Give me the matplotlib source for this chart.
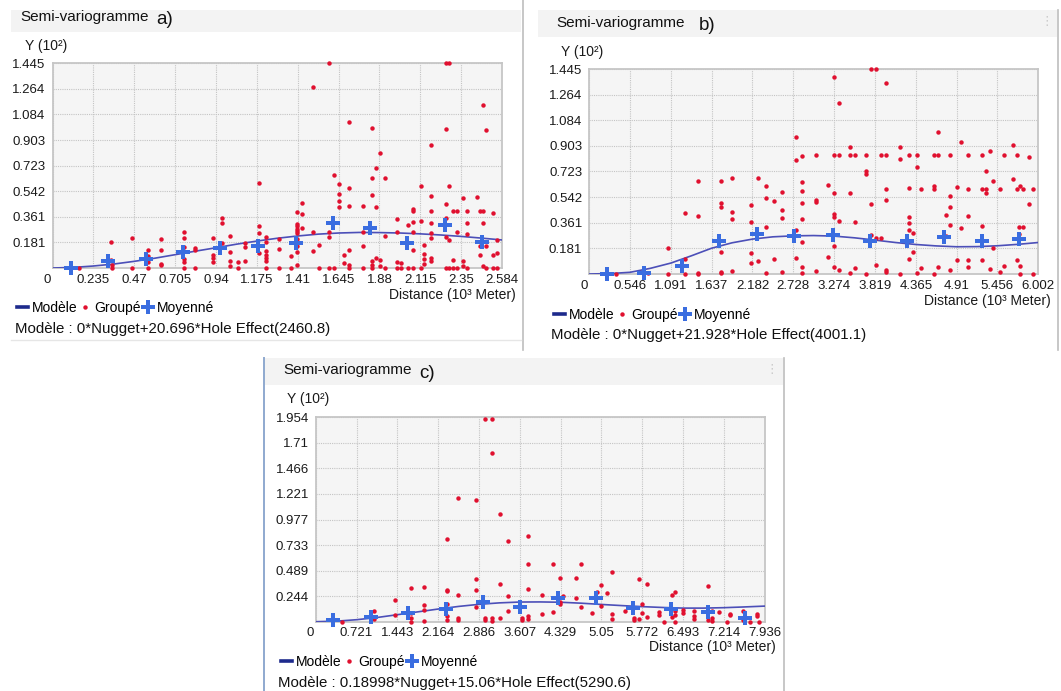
# Semi-variogrammes a), b), c) - hole effect models
import numpy as np
import matplotlib
matplotlib.use("Agg")
import matplotlib.pyplot as plt
from matplotlib.lines import Line2D
from matplotlib.patches import Rectangle
from matplotlib.transforms import ScaledTranslation

plt.rcParams['font.family'] = ['Liberation Sans', 'DejaVu Sans']

# ============================================
# Data (Y in 10^2, distance in 10^3 m)

a_xticks = ['0', '0.235', '0.47', '0.705', '0.94', '1.175', '1.41', '1.645', '1.88', '2.115', '2.35', '2.584']
a_yticks = ['0.181', '0.361', '0.542', '0.723', '0.903', '1.084', '1.264', '1.445']
a_model = "Modèle : 0*Nugget+20.696*Hole Effect(2460.8)"
a_groupe = [
    (0.154, 0.0), (0.336, 0.181), (0.336, 0.056), (0.340, 0.021), (0.340, 0.0),
    (0.455, 0.209), (0.455, 0.0),
    (0.547, 0.127), (0.547, 0.085), (0.547, 0.045), (0.547, 0.0),
    (0.626, 0.202), (0.626, 0.127), (0.626, 0.028), (0.626, 0.019),
    (0.758, 0.254), (0.758, 0.212), (0.758, 0.151), (0.758, 0.064), (0.758, 0.040), (0.758, 0.0),
    (0.819, 0.139), (0.819, 0.127), (0.819, 0.0),
    (0.925, 0.209), (0.925, 0.092), (0.925, 0.068), (0.925, 0.040),
    (0.973, 0.351), (0.973, 0.320), (0.973, 0.179),
    (1.020, 0.228), (1.020, 0.111), (1.020, 0.052), (1.020, 0.016),
    (1.066, 0.040), (1.066, 0.0),
    (1.107, 0.179), (1.107, 0.151), (1.107, 0.049),
    (1.187, 0.602), (1.187, 0.299), (1.187, 0.249), (1.187, 0.104),
    (1.227, 0.221), (1.227, 0.181), (1.227, 0.120), (1.227, 0.092), (1.227, 0.068), (1.227, 0.049), (1.227, 0.0),
    (1.300, 0.202), (1.300, 0.132), (1.300, 0.0),
    (1.369, 0.085), (1.369, 0.0),
    (1.406, 0.392), (1.406, 0.310), (1.406, 0.294), (1.406, 0.277), (1.406, 0.263), (1.406, 0.247),
    (1.406, 0.204), (1.406, 0.157), (1.406, 0.115), (1.406, 0.023),
    (1.435, 0.458), (1.435, 0.381), (1.435, 0.282),
    (1.498, 1.276), (1.498, 0.251), (1.498, 0.122),
    (1.530, 0.164), (1.530, 0.0),
    (1.590, 1.445), (1.590, 0.251), (1.590, 0.218), (1.590, 0.0),
    (1.620, 0.660), (1.620, 0.0),
    (1.645, 0.590), (1.645, 0.519), (1.645, 0.470), (1.645, 0.428),
    (1.674, 0.094), (1.674, 0.035),
    (1.702, 1.031), (1.702, 0.566), (1.702, 0.435), (1.702, 0.125), (1.702, 0.023), (1.702, 0.0),
    (1.785, 0.435), (1.785, 0.251), (1.785, 0.153), (1.785, 0.0),
    (1.836, 0.987), (1.836, 0.637), (1.836, 0.515), (1.836, 0.047), (1.836, 0.023), (1.836, 0.0),
    (1.861, 0.705), (1.861, 0.428), (1.861, 0.070),
    (1.882, 0.815), (1.884, 0.054), (1.884, 0.012),
    (1.909, 0.637), (1.909, 0.228), (1.909, 0.0),
    (1.979, 0.348), (1.979, 0.251), (1.979, 0.042), (1.979, 0.0),
    (2.004, 0.035), (2.004, 0.0),
    (2.046, 0.305), (2.046, 0.0),
    (2.071, 0.418), (2.071, 0.399), (2.071, 0.322), (2.071, 0.256), (2.071, 0.127), (2.071, 0.0),
    (2.117, 0.580), (2.117, 0.334), (2.117, 0.0),
    (2.136, 0.164), (2.136, 0.099), (2.136, 0.063), (2.136, 0.031),
    (2.178, 0.867), (2.178, 0.505), (2.178, 0.402), (2.178, 0.320), (2.178, 0.247), (2.178, 0.211),
    (2.178, 0.070), (2.178, 0.047),
    (2.260, 1.445), (2.281, 1.445), (2.260, 0.980), (2.281, 0.580), (2.260, 0.453), (2.260, 0.352),
    (2.260, 0.216), (2.281, 0.200),
    (2.260, 0.0), (2.281, 0.0), (2.300, 0.0), (2.323, 0.0), (2.300, 0.059), (2.323, 0.256),
    (2.300, 0.402), (2.323, 0.402),
    (2.361, 0.496), (2.382, 0.402), (2.382, 0.320), (2.382, 0.240), (2.361, 0.052), (2.361, 0.012), (2.382, 0.0),
    (2.440, 0.500), (2.459, 0.402), (2.478, 0.402), (2.473, 0.320), (2.473, 1.149), (2.495, 0.975),
    (2.532, 0.388), (2.457, 0.153), (2.495, 0.153), (2.457, 0.094), (2.553, 0.195), (2.553, 0.106),
    (2.530, 0.094), (2.473, 0.012), (2.495, 0.0), (2.530, 0.0), (2.553, 0.0),
]
a_moy_x = [0.105, 0.321, 0.538, 0.753, 0.965, 1.182, 1.400, 1.610, 1.825, 2.039, 2.254, 2.468]
a_moy_y = [0.0, 0.052, 0.066, 0.113, 0.141, 0.158, 0.174, 0.317, 0.282, 0.179, 0.301, 0.186]
a_curve_x = [0, 0.1175, 0.235, 0.3525, 0.47, 0.5875, 0.705, 0.8225, 0.94, 1.0575, 1.175, 1.2925,
             1.41, 1.5275, 1.645, 1.7625, 1.88, 1.9975, 2.115, 2.2325, 2.35, 2.467, 2.584]
a_curve_y = [0, 0.004, 0.014, 0.028, 0.047, 0.069, 0.094, 0.119, 0.143, 0.168, 0.19, 0.21,
             0.226, 0.239, 0.247, 0.251, 0.25, 0.247, 0.241, 0.233, 0.223, 0.211, 0.198]

b_xticks = ['0', '0.546', '1.091', '1.637', '2.182', '2.728', '3.274', '3.819', '4.365', '4.91', '5.456', '6.002']
b_yticks = ['0.181', '0.361', '0.542', '0.723', '0.903', '1.084', '1.264', '1.445']
b_model = "Modèle : 0*Nugget+21.928*Hole Effect(4001.1)"
b_groupe = [
    (0.358, 0.0), (0.782, 0.010), (1.058, 0.186), (1.058, 0.0),
    (1.276, 0.428), (1.276, 0.103), (1.276, 0.0),
    (1.450, 0.656), (1.450, 0.411), (1.450, 0.010), (1.450, 0.0),
    (1.762, 0.656), (1.762, 0.503), (1.762, 0.472), (1.762, 0.157), (1.762, 0.016), (1.762, 0.005),
    (1.909, 0.679), (1.909, 0.435), (1.909, 0.385), (1.909, 0.023),
    (2.158, 0.486), (2.158, 0.367), (2.158, 0.146), (2.158, 0.080),
    (2.261, 0.679), (2.261, 0.094),
    (2.363, 0.618), (2.363, 0.533), (2.363, 0.334), (2.363, 0.010),
    (2.474, 0.517), (2.474, 0.106),
    (2.572, 0.580), (2.572, 0.449), (2.572, 0.392), (2.572, 0.016),
    (2.759, 0.963), (2.759, 0.806), (2.759, 0.310), (2.759, 0.115),
    (2.849, 0.832), (2.849, 0.646), (2.849, 0.587), (2.849, 0.498), (2.849, 0.385), (2.849, 0.228),
    (2.849, 0.052), (2.849, 0.010),
    (3.027, 0.839), (3.027, 0.522), (3.027, 0.510), (3.027, 0.023),
    (3.274, 1.391), (3.345, 1.203), (3.274, 0.839), (3.345, 0.839), (3.190, 0.625), (3.274, 0.573),
    (3.274, 0.420), (3.274, 0.404), (3.345, 0.374), (3.274, 0.197), (3.190, 0.122), (3.274, 0.052),
    (3.345, 0.028),
    (3.487, 0.893), (3.487, 0.839), (3.558, 0.839), (3.487, 0.573), (3.558, 0.367), (3.487, 0.010),
    (3.558, 0.045),
    (3.700, 0.839), (3.700, 0.728), (3.700, 0.705), (3.771, 0.491), (3.771, 0.273), (3.829, 0.256),
    (3.904, 0.256), (3.700, 0.0), (3.829, 0.063),
    (3.771, 1.443), (3.829, 1.443), (3.962, 1.346), (3.904, 0.839), (3.962, 0.839), (3.962, 0.599),
    (3.962, 0.524), (3.962, 0.028), (3.962, 0.016),
    (4.152, 0.893), (4.152, 0.813), (4.272, 0.839), (4.375, 0.839), (4.375, 0.752), (4.272, 0.606),
    (4.436, 0.597), (4.272, 0.399), (4.272, 0.357), (4.272, 0.310), (4.325, 0.287), (4.325, 0.153),
    (4.272, 0.103), (4.152, 0.0), (4.375, 0.010), (4.436, 0.040),
    (4.658, 1.001), (4.605, 0.839), (4.658, 0.839), (4.818, 0.839), (4.605, 0.620), (4.605, 0.600),
    (4.818, 0.550), (4.818, 0.475), (4.765, 0.416), (4.818, 0.348), (4.765, 0.268), (4.658, 0.052),
    (4.818, 0.028), (4.605, 0.0),
    (4.969, 0.933), (5.062, 0.839), (4.916, 0.616), (5.062, 0.601), (5.062, 0.411), (4.969, 0.322),
    (4.916, 0.099), (5.062, 0.099), (5.062, 0.047),
    (5.253, 0.839), (5.350, 0.865), (5.302, 0.724), (5.253, 0.601), (5.302, 0.601), (5.302, 0.573),
    (5.395, 0.658), (5.253, 0.338), (5.395, 0.186), (5.253, 0.099), (5.350, 0.035), (5.492, 0.601),
    (5.541, 0.839), (5.541, 0.056), (5.492, 0.016),
    (5.670, 0.912), (5.719, 0.839), (5.670, 0.670), (5.719, 0.601), (5.759, 0.620), (5.803, 0.601),
    (5.931, 0.601), (5.883, 0.827), (5.883, 0.491), (5.745, 0.329), (5.803, 0.329), (5.745, 0.280),
    (5.719, 0.099), (5.759, 0.056), (5.931, 0.0), (5.759, 0.0),
]
b_moy_x = [0.243, 0.737, 1.236, 1.739, 2.238, 2.737, 3.252, 3.749, 4.250, 4.742, 5.243, 5.741]
b_moy_y = [0.0, 0.009, 0.059, 0.235, 0.284, 0.270, 0.275, 0.233, 0.235, 0.263, 0.233, 0.247]
b_curve_x = [0, 0.273, 0.546, 0.818, 1.091, 1.364, 1.637, 1.91, 2.182, 2.455, 2.728, 3.0,
             3.274, 3.546, 3.819, 4.092, 4.365, 4.638, 4.91, 5.183, 5.456, 5.729, 6.002]
b_curve_y = [0, 0.003, 0.012, 0.04, 0.077, 0.128, 0.182, 0.220, 0.246, 0.262, 0.269, 0.271,
             0.267, 0.255, 0.239, 0.222, 0.208, 0.198, 0.192, 0.193, 0.199, 0.209, 0.222]

c_xticks = ['0', '0.721', '1.443', '2.164', '2.886', '3.607', '4.329', '5.05', '5.772', '6.493', '7.214', '7.936']
c_yticks = ['0.244', '0.489', '0.733', '0.977', '1.221', '1.466', '1.71', '1.954']
c_model = "Modèle : 0.18998*Nugget+15.06*Hole Effect(5290.6)"
c_groupe = [
    (0.456, 0.0), (1.028, 0.105), (1.028, 0.022), (1.399, 0.206), (1.399, 0.063),
    (1.681, 0.323), (1.681, 0.079), (1.681, 0.032), (1.681, 0.0),
    (1.911, 0.333), (1.911, 0.158), (1.911, 0.111), (1.911, 0.010),
    (2.323, 0.792), (2.323, 0.307), (2.323, 0.295), (2.323, 0.165), (2.323, 0.054), (2.323, 0.016),
    (2.513, 1.182), (2.513, 0.260), (2.513, 0.032), (2.513, 0.016),
    (2.842, 1.166), (2.842, 0.409), (2.842, 0.301), (2.842, 0.136),
    (2.989, 1.942), (3.124, 1.942), (3.124, 1.613), (2.989, 0.032), (2.989, 0.016), (3.124, 0.032),
    (3.124, 0.010),
    (3.266, 1.030), (3.266, 0.364), (3.398, 0.767), (3.398, 0.247), (3.398, 0.101), (3.266, 0.032),
    (3.760, 0.818), (3.760, 0.548), (3.760, 0.317), (3.760, 0.054), (3.760, 0.022), (3.642, 0.035),
    (3.642, 0.016),
    (3.993, 0.253), (3.993, 0.070), (4.200, 0.548), (4.200, 0.095), (4.317, 0.418), (4.317, 0.190),
    (4.317, 0.168), (4.377, 0.244), (4.595, 0.418), (4.595, 0.222), (4.689, 0.548), (4.689, 0.136),
    (4.878, 0.079), (4.978, 0.285), (5.043, 0.352), (5.043, 0.149), (5.144, 0.276), (5.232, 0.475),
    (5.232, 0.070), (5.232, 0.029),
    (5.477, 0.105), (5.630, 0.035), (5.630, 0.016), (5.713, 0.409), (5.778, 0.165), (5.778, 0.086),
    (5.849, 0.364), (5.849, 0.041), (5.713, 0.022),
    (6.076, 0.095), (6.076, 0.063), (6.159, 0.0), (6.294, 0.253), (6.359, 0.285), (6.359, 0.100),
    (6.359, 0.063), (6.294, 0.048), (6.359, 0.0),
    (6.502, 0.110), (6.502, 0.080), (6.690, 0.100), (6.690, 0.054), (6.690, 0.022), (6.944, 0.342),
    (6.944, 0.016), (7.000, 0.100), (7.005, 0.032), (7.000, 0.010),
    (7.140, 0.095), (7.329, 0.073), (7.329, 0.060), (7.270, 0.0), (7.564, 0.105), (7.564, 0.016),
    (7.682, 0.0), (7.800, 0.073), (7.800, 0.057), (7.847, 0.0),
]
c_moy_x = [0.309, 0.975, 1.623, 2.294, 2.959, 3.607, 4.288, 4.949, 5.604, 6.277, 6.931, 7.592]
c_moy_y = [0.016, 0.048, 0.086, 0.120, 0.184, 0.143, 0.222, 0.222, 0.127, 0.120, 0.089, 0.038]
c_curve_x = [0, 0.361, 0.721, 1.082, 1.443, 1.803, 2.164, 2.525, 2.886, 3.247, 3.607, 3.968,
             4.329, 4.69, 5.05, 5.411, 5.772, 6.133, 6.493, 6.854, 7.214, 7.575, 7.936]
c_curve_y = [0, 0.005, 0.019, 0.04, 0.067, 0.094, 0.121, 0.146, 0.166, 0.18, 0.188, 0.189,
             0.186, 0.177, 0.165, 0.154, 0.144, 0.136, 0.130, 0.130, 0.134, 0.141, 0.149]
# ============================================

# Figure geometry in pixels (origin top-left)
W, H = 1061, 691
RED = '#e0102f'
BLUE = '#3a6de0'
LINE = '#4c4fb8'
NAVY = '#1d2a8c'

fig = plt.figure(figsize=(W / 100, H / 100), dpi=100)


def fx(x):
    return x / W


def fy(y):
    return 1 - y / H


def add_rect(x0, y0, x1, y1, color):
    fig.add_artist(Rectangle((fx(x0), fy(y1)), (x1 - x0) / W, (y1 - y0) / H,
                             transform=fig.transFigure, facecolor=color, edgecolor='none', zorder=0))


def add_vline(x, y0, y1, color, lw=1.0):
    fig.add_artist(Line2D([fx(x), fx(x)], [fy(y0), fy(y1)], transform=fig.transFigure,
                          color=color, lw=lw, zorder=1))


# Function draw_panel
def draw_panel(box, letter, head, groupe, moy_x, moy_y, curve_x, curve_y, xticks, yticks, model):
    x0, y0, x1, y1 = box['plot']
    ax = fig.add_axes([fx(x0), fy(y1), (x1 - x0) / W, (y1 - y0) / H])
    ax.set_facecolor('#f5f5f5')

    xt = [float(t) for t in xticks]
    yt = [float(t) for t in yticks]
    ax.set_xlim(0, xt[-1])
    ax.set_ylim(0, yt[-1])
    ax.set_xticks(xt)
    ax.set_xticklabels(xticks)
    ax.set_yticks(yt)
    ax.set_yticklabels(yticks)
    ax.tick_params(length=0, labelsize=9.5, colors='#1a1a1a', pad=5)
    ax.tick_params(axis='x', pad=4)
    ax.grid(True, color='#c4c4c4', lw=0.8, ls=(0, (1, 1)))
    ax.set_axisbelow(True)
    for s in ax.spines.values():
        s.set_color('#c6c6c6')
        s.set_linewidth(1.3)
    # "0" label sits slightly left of the axis origin
    lab0 = ax.xaxis.get_major_ticks()[0].label1
    lab0.set_transform(lab0.get_transform() + ScaledTranslation(-0.055, 0, fig.dpi_scale_trans))

    g = np.array(groupe)
    ax.plot(curve_x, curve_y, color=LINE, lw=1.2, zorder=3)
    ax.plot(g[:, 0], g[:, 1], ls='none', marker='o', ms=3.2, color=RED, mew=0, zorder=4, clip_on=False)
    ax.plot(moy_x, moy_y, ls='none', marker='P', ms=10.5, color=BLUE, mew=0, zorder=5, clip_on=False)

    # header band and titles
    hx0, hy0, hx1, hy1 = head
    add_rect(hx0, hy0, hx1, hy1, '#f3f3f3')
    tx, ty = box['title']
    fig.text(fx(tx), fy(ty), "Semi-variogramme", fontsize=11, ha='left', va='center', color='#111111')
    lx, ly = box['letter']
    fig.text(fx(lx), fy(ly), letter, fontsize=13.5, ha='left', va='center', color='#111111')

    yx, yy = box['ylab']
    fig.text(fx(yx), fy(yy), "Y (10²)", fontsize=10, ha='left', va='center', color='#1a1a1a')
    dx, dy = box['dist']
    fig.text(fx(dx), fy(dy), "Distance (10³ Meter)", fontsize=10, ha='right', va='center', color='#1a1a1a')
    mx, my = box['model']
    fig.text(fx(mx), fy(my), model, fontsize=10.8, ha='left', va='center', color='#111111')

    handles = [Line2D([], [], color=NAVY, lw=2.6),
               Line2D([], [], ls='none', marker='o', ms=3.2, color=RED, mew=0),
               Line2D([], [], ls='none', marker='P', ms=10.5, color=BLUE, mew=0)]
    gx, gy = box['legend']
    ax.legend(handles, ['Modèle', 'Groupé', 'Moyenné'], loc='center left',
              bbox_to_anchor=(fx(gx), fy(gy)), bbox_transform=fig.transFigure,
              ncol=3, frameon=False, fontsize=10, handlelength=0.8, handletextpad=0.25,
              columnspacing=0.15, borderpad=0, borderaxespad=0)
    return ax


# Layout of the three panels (pixels)
box_a = {'plot': (52.5, 63.3, 501.9, 268.0), 'title': (20, 17), 'letter': (156, 20),
         'ylab': (25, 46), 'dist': (516, 295), 'legend': (17, 308), 'model': (15, 329)}
box_b = {'plot': (589.2, 69.0, 1038.3, 274.0), 'title': (556, 23), 'letter': (699, 25),
         'ylab': (561, 52), 'dist': (1051, 301), 'legend': (554, 315), 'model': (551, 335)}
box_c = {'plot': (315.8, 417.3, 764.5, 621.7), 'title': (283, 370), 'letter': (419, 373),
         'ylab': (287, 399), 'dist': (776, 647), 'legend': (281, 662), 'model': (278, 683)}

draw_panel(box_a, 'a)', (11, 10, 521, 31.5), a_groupe, a_moy_x, a_moy_y, a_curve_x, a_curve_y,
           a_xticks, a_yticks, a_model)
draw_panel(box_b, 'b)', (538, 10, 1057, 36.5), b_groupe, b_moy_x, b_moy_y, b_curve_x, b_curve_y,
           b_xticks, b_yticks, b_model)
draw_panel(box_c, 'c)', (264, 358, 783, 385), c_groupe, c_moy_x, c_moy_y, c_curve_x, c_curve_y,
           c_xticks, c_yticks, c_model)

# panel frames
add_vline(522.7, 0, 350, '#bdbdbd', 1.2)
add_vline(1058, 10, 350, '#bdbdbd', 1.2)
add_vline(263.7, 358, 691, '#8fa9cf', 1.4)
add_vline(784, 358, 691, '#bdbdbd', 1.2)
fig.add_artist(Line2D([fx(11), fx(521)], [fy(340), fy(340)], transform=fig.transFigure,
                      color='#e6e6e6', lw=1.0))
for (vx, vy) in [(1047, 21.5), (772, 370)]:
    fig.text(fx(vx), fy(vy), '⋮', fontsize=9, ha='center', va='center', color='#c8c8c8',
             family='DejaVu Sans')

fig.savefig('out.png', dpi=100)
